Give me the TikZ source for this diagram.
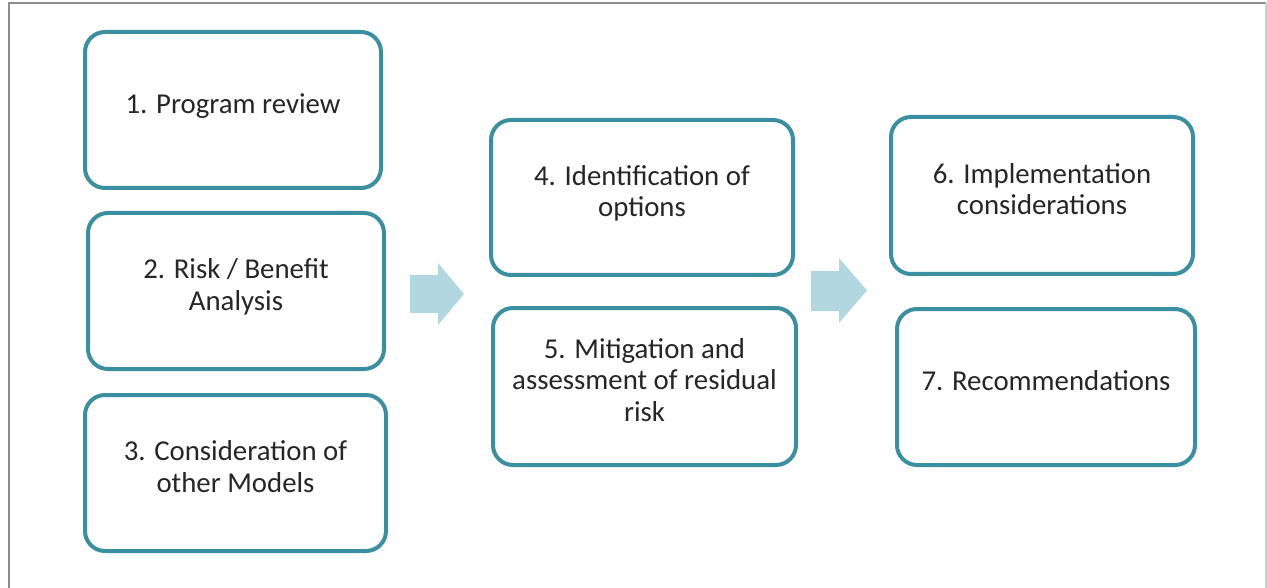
\documentclass[tikz,border=0pt]{standalone}
\usepackage{fontspec}
\setmainfont{Carlito}
\usepackage{tikz}
\usetikzlibrary{positioning}
\usepackage{xcolor}
\definecolor{stageteal}{HTML}{3A8FA0}
\definecolor{arrowblue}{HTML}{B3D7E0}
\definecolor{framegray}{HTML}{8C8C8C}
\tikzset{
    stagebox/.style={draw=stageteal, line width=4pt, rounded corners=20pt, fill=white,
        minimum width=#1, minimum height=156pt, align=center, text=black!85,
        text depth=13pt, font=\fontsize{28.8}{31.5}\selectfont},
    stagebox/.default=300pt
}

\begin{document}
\begin{tikzpicture}[x=1pt,y=-1pt]
        \useasboundingbox (0,0) rectangle (1267,588);
        \draw[framegray, line width=2pt] (9,588) -- (9,3) -- (1266,3);
        \draw[black!20, line width=1.5pt] (1266,3) -- (1266,588);

        \node[stagebox=296pt] (review) at (233,110) {1. Program review};
        \node[stagebox=296pt] (risk) at (236,291) {2. Risk / Benefit\\Analysis};
        \node[stagebox=301pt] (models) at (235.5,473) {3. Consideration of\\other Models};

        \fill[arrowblue] (410,275) -- (438,275) -- (438,263) -- (464,294) -- (438,325) -- (438,313) -- (410,313) -- cycle;

        \node[stagebox=302pt, minimum height=155pt] (options) at (642,197.5) {4. Identification of\\options};
        \node[stagebox=303pt, minimum height=157pt] (mitigation) at (644.5,386.5) {5. Mitigation and\\assessment of residual\\risk};

        \fill[arrowblue] (811,271) -- (839,271) -- (839,258) -- (867,290.5) -- (839,323) -- (839,311) -- (811,311) -- cycle;

        \node[stagebox=302pt, minimum height=157pt] (implementation) at (1042,195.5) {6. Implementation\\considerations};
        \node[stagebox=298pt] (recommend) at (1046,387) {7. Recommendations};
    \end{tikzpicture}
\end{document}
